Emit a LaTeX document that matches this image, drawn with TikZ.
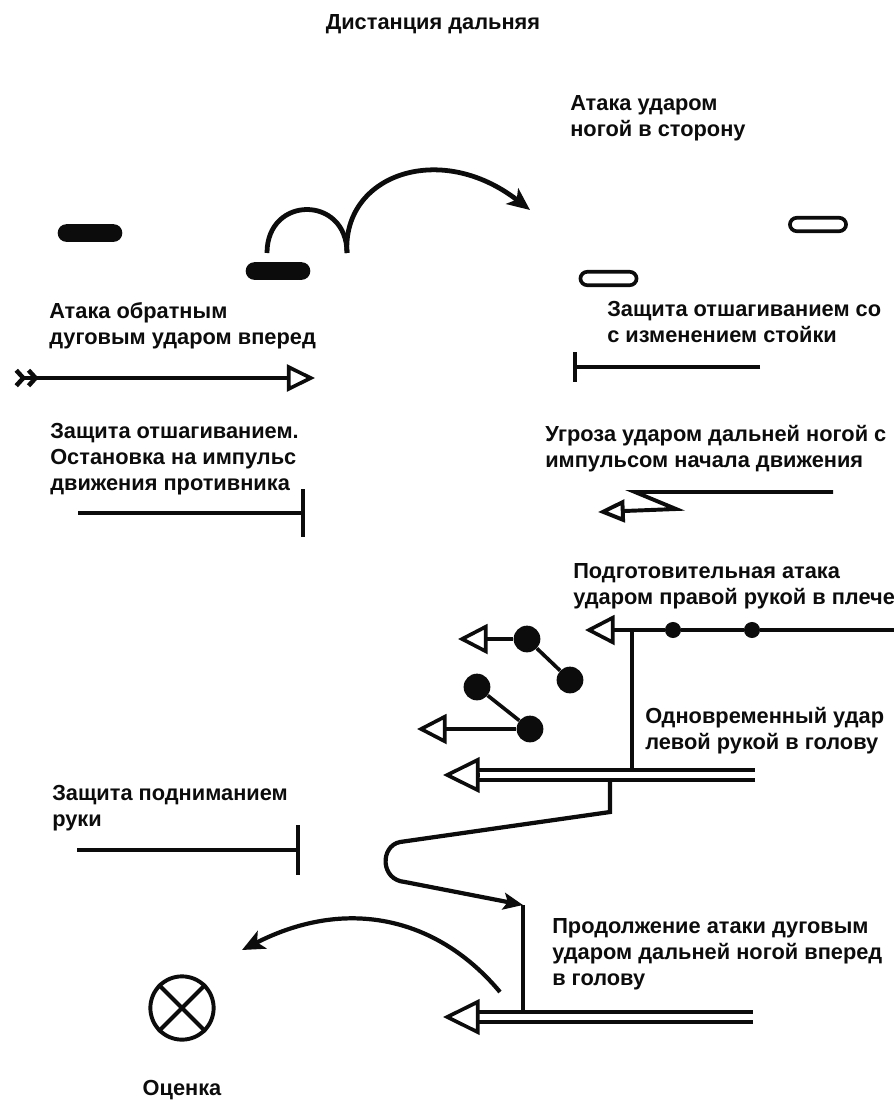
\documentclass[tikz,border=0pt]{standalone}
\usepackage{fontspec}
\setmainfont{Liberation Sans}
\usepackage{tikz}
\usepackage{xcolor}
\usetikzlibrary{arrows.meta,positioning,calc}
\definecolor{ink}{RGB}{12,12,12}
\tikzset{
  lbl/.style={font=\bfseries\fontsize{15.5}{18.5}\selectfont,align=left,text=ink,inner sep=0pt,anchor=north west},
  move/.style={line width=2.6pt,draw=ink},
  heavy/.style={line width=3pt,draw=ink},
  openhead/.style={move,-{Triangle[open,length=21pt,width=21pt]}},
  bigopenhead/.style={move,-{Triangle[open,length=26pt,width=25pt]}},
  solidhead/.style={heavy,-{Stealth[length=16pt,width=14pt,inset=4pt]}},
  railpair/.style={draw=ink,line width=2.4pt,double=white,double distance=4.6pt},
  blockbar/.style={move,-{Bar[width=#1,line width=2.6pt]}},
  fullpill/.style={rectangle,rounded corners=6.3pt,minimum width=46pt,minimum height=12.6pt,inner sep=0pt,fill=ink},
  hollowpill/.style={rectangle,rounded corners=5pt,minimum width=40pt,minimum height=9.6pt,inner sep=0pt,draw=ink,line width=2.6pt},
  bigdot/.style={circle,fill=ink,minimum size=19pt,inner sep=0pt},
  smalldot/.style={circle,fill=ink,minimum size=11.4pt,inner sep=0pt}
}
\begin{document}
\begin{tikzpicture}[x=0.025cm,y=-0.025cm]
  \useasboundingbox (0,0) rectangle (894,1101);

  \node[lbl,anchor=north] (title) at (433,14) {Дистанция дальняя};

  % top: stances and the jump
  \node[fullpill] (stanceA) at (90,233) {};
  \node[fullpill] (stanceB) at (278,271) {};
  \node[hollowpill] (stanceC) at (818,224.5) {};
  \node[hollowpill] (stanceD) at (608.5,278.5) {};
  \node[lbl] (sidekick) at (570,95) {Атака ударом\\ногой в сторону};

  \coordinate (jumpA) at (267,253);
  \coordinate (jumpB) at (347,253);
  \coordinate (jumpEnd) at (530,210);
  \draw[heavy,line width=3.4pt] (jumpA) .. controls (267,195) and (347,195) .. (jumpB);
  \draw[solidhead,line width=3.4pt] (jumpB) .. controls (342,175) and (440,140) .. (jumpEnd);

  \node[lbl] (backkick) at (49,302) {Атака обратным\\дуговым ударом вперед};
  \coordinate (backkickS) at (14,378);
  \coordinate (backkickE) at (315,378);
  \draw[move,{Straight Barb[reversed,length=5pt,width=11pt,line width=3.2pt]Straight Barb[reversed,length=5pt,width=11pt,line width=3.2pt]}-{Triangle[open,length=20pt,width=19pt]}]
    (backkickS) -- (backkickE);

  \node[lbl] (stepaside) at (607,301) {Защита отшагиванием со\\с изменением стойки};
  \coordinate (stepasideR) at (760,367);
  \coordinate (stepasideL) at (573,367);
  \draw[blockbar=21pt] (stepasideR) -- (stepasideL);

  % stop on the opponent's impulse
  \node[lbl] (stopimp) at (50,423) {Защита отшагиванием.\\Остановка на импульс\\движения противника};
  \coordinate (stopimpL) at (78,513);
  \coordinate (stopimpR) at (305,513);
  \draw[blockbar=34pt] (stopimpL) -- (stopimpR);

  \node[lbl] (threat) at (545,425) {Угроза ударом дальней ногой с\\импульсом начала движения};
  \coordinate (threatR) at (833,492);
  \coordinate (threatZa) at (635,492);
  \coordinate (threatZb) at (676,509);
  \coordinate (threatTip) at (598,512);
  \draw[move,line width=2.8pt,-{Triangle[open,length=19pt,width=16pt]}] (threatR) -- (threatZa) -- (threatZb) -- (threatTip);

  % preparatory attack with the hands
  \node[lbl] (prep) at (573,563) {Подготовительная атака\\ударом правой рукой в плече};
  \node[smalldot] (prepA) at (673,630) {};
  \node[smalldot] (prepB) at (752,630) {};
  \coordinate (prepR) at (894,630);
  \coordinate (prepTip) at (585,630);
  \coordinate (junA) at (632,630);
  \draw[move] (prepR) -- (prepB) -- (prepA) -- (junA);
  \draw[openhead] (junA) -- (prepTip);

  \node[bigdot] (handA) at (527,639) {};
  \node[bigdot] (handB) at (570,680) {};
  \node[bigdot] (handC) at (477,687) {};
  \node[bigdot] (handD) at (530,729) {};
  \coordinate (handAtip) at (458,639);
  \coordinate (handDtip) at (417,729);
  \draw[move] (handA) -- (handB);
  \draw[move] (handC) -- (handD);
  \draw[openhead] (handA) -- (handAtip);
  \draw[openhead] (handD) -- (handDtip);

  \node[lbl] (simul) at (645,707) {Одновременный удар\\левой рукой в голову};
  \coordinate (junB) at (632,770);
  \draw[move] (junA) -- (junB);

  \coordinate (railAR) at (755,775);
  \coordinate (railAL) at (479,775);
  \coordinate (railAtip) at (443,775);
  \draw[railpair] (railAR) -- (railAL);
  \draw[bigopenhead] (railAL) -- (railAtip);

  \node[lbl] (raise) at (52,785) {Защита подниманием\\руки};
  \coordinate (raiseL) at (77,850);
  \coordinate (raiseR) at (300,850);
  \draw[blockbar=35pt] (raiseL) -- (raiseR);

  % continuation of the attack
  \coordinate (loopA) at (610,780);
  \coordinate (loopB) at (610,812);
  \coordinate (loopC) at (400,842);
  \coordinate (loopD) at (405,882);
  \coordinate (contTop) at (523,905);
  \coordinate (contBot) at (523,1012);
  \draw[heavy,-{Stealth[length=14pt,width=12pt,inset=3pt]}]
    (loopA) -- (loopB) -- (loopC) .. controls (380,846) and (380,880) .. (loopD) -- (contTop);
  \draw[move] (contTop) -- (contBot);

  \node[lbl] (contin) at (552,918) {Продолжение атаки дуговым\\ударом дальней ногой вперед\\в голову};
  \coordinate (railBR) at (753,1017);
  \coordinate (railBL) at (477,1017);
  \coordinate (railBtip) at (443,1017);
  \draw[railpair] (railBR) -- (railBL);
  \draw[bigopenhead] (railBL) -- (railBtip);

  % evaluation
  \node[circle,draw=ink,line width=2.8pt,minimum size=45pt,inner sep=0pt] (mark) at (182,1008) {};
  \draw[move,line width=2.8pt] (mark.45) -- (mark.225);
  \draw[move,line width=2.8pt] (mark.135) -- (mark.315);
  \node[lbl,anchor=north] (markTxt) at (182,1080) {Оценка};

  \coordinate (evalS) at (500,992);
  \coordinate (evalTip) at (242,950);
  \draw[solidhead] (evalS) .. controls (440,920) and (350,895) .. (evalTip);
\end{tikzpicture}
\end{document}
